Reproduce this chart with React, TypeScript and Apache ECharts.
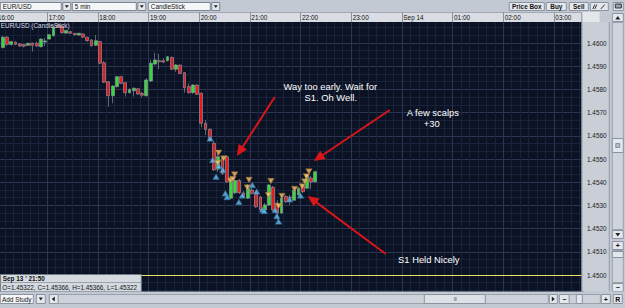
import React, { useEffect, useRef } from 'react';
import * as echarts from 'echarts';

// ---------- data ----------
const candleTimes = [
  '16:05','16:10','16:15','16:20','16:25','16:30','16:35','16:40','16:45','16:50',
  '16:55','17:00','17:05','17:10','17:15','17:20','17:25','17:30','17:35','17:40',
  '17:45','17:50','17:55','18:00','18:05','18:10','18:15','18:20','18:25','18:30',
  '18:35','18:40','18:45','18:50','18:55','19:00','19:05','19:10','19:15','19:20',
  '19:25','19:30','19:35','19:40','19:45','19:50','19:55','20:00','20:05','20:10',
  '20:15','20:20','20:25','20:30','20:35','20:40','20:45','20:50','20:55','21:00',
  '21:05','21:10','21:15','21:20','21:25','21:30','21:35','21:40','21:45','21:50',
  '21:55','22:00','22:05','22:10','22:15'
];
const opens = [
  1.45981,1.46025,1.45994,1.46004,1.45996,1.45993,1.45990,1.45999,1.45999,1.45984,
  1.46004,1.46017,1.46031,1.46078,1.46073,1.46043,1.46049,1.46042,1.46034,1.46039,
  1.46025,1.46013,1.45990,1.46006,1.45915,1.45833,1.45773,1.45812,1.45855,1.45829,
  1.45786,1.45794,1.45803,1.45783,1.45773,1.45836,1.45909,1.45924,1.45924,1.45924,
  1.45938,1.45887,1.45905,1.45872,1.45812,1.45786,1.45819,1.45783,1.45654,1.45628,
  1.45568,1.45456,1.45503,1.45510,1.45331,1.45354,1.45407,1.45354,1.45331,1.45366,
  1.45352,1.45336,1.45280,1.45302,1.45378,1.45310,1.45267,1.45338,1.45336,1.45322,
  1.45345,1.45384,1.45374,1.45418,1.45402
];
const closes = [
  1.46025,1.45994,1.46006,1.45994,1.45987,1.45986,1.45999,1.45990,1.45987,1.46017,
  1.46009,1.46036,1.46070,1.46068,1.46044,1.46054,1.46042,1.46036,1.46042,1.46025,
  1.46010,1.45988,1.46010,1.45913,1.45831,1.45773,1.45815,1.45855,1.45826,1.45786,
  1.45800,1.45805,1.45780,1.45775,1.45841,1.45913,1.45927,1.45919,1.45918,1.45941,
  1.45887,1.45905,1.45869,1.45807,1.45786,1.45819,1.45779,1.45654,1.45627,1.45582,
  1.45453,1.45510,1.45438,1.45402,1.45410,1.45407,1.45355,1.45339,1.45374,1.45352,
  1.45294,1.45280,1.45302,1.45388,1.45280,1.45267,1.45332,1.45316,1.45332,1.45366,
  1.45374,1.45359,1.45431,1.45401,1.45445
];
const lows = [
  1.45976,1.45989,1.45989,1.45991,1.45983,1.45981,1.45987,1.45963,1.45984,1.45981,
  1.45987,1.46015,1.46028,1.46065,1.46041,1.46039,1.46039,1.46032,1.46032,1.46022,
  1.46006,1.45984,1.45987,1.45909,1.45828,1.45725,1.45740,1.45808,1.45823,1.45769,
  1.45782,1.45769,1.45776,1.45766,1.45769,1.45832,1.45905,1.45887,1.45913,1.45920,
  1.45884,1.45876,1.45866,1.45786,1.45782,1.45782,1.45776,1.45637,1.45603,1.45578,
  1.45448,1.45444,1.45431,1.45397,1.45328,1.45349,1.45349,1.45336,1.45328,1.45347,
  1.45290,1.45276,1.45276,1.45297,1.45276,1.45237,1.45263,1.45310,1.45302,1.45322,
  1.45341,1.45354,1.45371,1.45371,1.45399
];
const highs = [
  1.46030,1.46030,1.46009,1.46006,1.45998,1.45996,1.46000,1.46002,1.46006,1.46019,
  1.46022,1.46039,1.46073,1.46080,1.46078,1.46056,1.46052,1.46043,1.46043,1.46041,
  1.46026,1.46017,1.46034,1.46009,1.45922,1.45836,1.45817,1.45858,1.45858,1.45832,
  1.45804,1.45808,1.45806,1.45790,1.45848,1.45927,1.45958,1.45953,1.45934,1.45944,
  1.45942,1.45909,1.45907,1.45875,1.45826,1.45823,1.45821,1.45787,1.45668,1.45631,
  1.45578,1.45526,1.45509,1.45517,1.45427,1.45418,1.45414,1.45362,1.45392,1.45375,
  1.45358,1.45341,1.45310,1.45392,1.45384,1.45323,1.45341,1.45345,1.45345,1.45366,
  1.45379,1.45388,1.45435,1.45427,1.45450
];

// buy signals (blue up triangles)
const buyTimes = ['20:13','20:16','20:20','20:23','20:28','20:31','20:33','20:47','20:51','21:03','21:08','21:15','21:17','21:30','21:32','21:34','21:47','22:00'];
const buyPrices = [1.45588,1.45496,1.45424,1.45470,1.45453,1.45352,1.45336,1.45315,1.45343,1.45388,1.45360,1.45282,1.45276,1.45280,1.45254,1.45231,1.45326,1.45343];
// sell signals (orange down triangles)
const sellTimes = ['20:23','20:22','20:29','20:37','20:42','20:40','20:59','20:57','21:25','21:22','21:38','21:34','21:53','22:02','22:05','22:07','22:10'];
const sellPrices = [1.45527,1.45483,1.45502,1.45407,1.45433,1.45414,1.45410,1.45377,1.45405,1.45345,1.45341,1.45297,1.45371,1.45382,1.45403,1.45425,1.45446];

const supportLevel = 1.45361; // S1
const priceMin = 1.449;
const priceMax = 1.461;
const priceStep = 0.001;
const selectedTime = '21:50';

const FONT = '"Liberation Sans", Arial, sans-serif';
const RED = '#d8161a';

const pad = (n: number) => (n < 10 ? '0' + n : '' + n);
const START_MIN = 16 * 60;
const SLOTS = 139;
const SLOT_PX = 4.2333;
const OX = 4.8; // the chart canvas starts 4.8px left of the page (16:00 line is off-page)
const toMinutes = (t: string) => {
  const [h, m] = t.split(':').map(Number);
  return (h * 60 + m - START_MIN + 1440) % 1440;
};
const slotLabels = Array.from({ length: SLOTS }, (_, i) => {
  const mm = START_MIN + i * 5;
  return pad(Math.floor(mm / 60) % 24) + ':' + pad(mm % 60);
});

function buildGraphics() {
  const g: any[] = [];
  const rect = (x: number, y: number, w: number, h: number, fill: string, stroke: string | null, z: number) =>
    g.push({ type: 'rect', silent: true, z, shape: { x: x + OX, y, width: w, height: h }, style: { fill, stroke: stroke || 'none', lineWidth: stroke ? 1 : 0 } });
  const text = (x: number, y: number, t: string, size: number, fill: string, align: string, z: number, weight = 'normal') =>
    g.push({ type: 'text', silent: true, z, x: x + OX, y, style: { text: t, fill, font: `${weight} ${size}px ${FONT}`, align, verticalAlign: 'middle', textAlign: align, textVerticalAlign: 'middle' } });
  const poly = (pts: number[][], fill: string, z: number) =>
    g.push({ type: 'polygon', silent: true, z, shape: { points: pts.map(([a, b]) => [a + OX, b]) }, style: { fill } });
  const line = (x1: number, y1: number, x2: number, y2: number, stroke: string, w: number, z: number) =>
    g.push({ type: 'line', silent: true, z, shape: { x1: x1 + OX, y1, x2: x2 + OX, y2 }, style: { stroke, lineWidth: w } });

  const FACE = '#e4e7ec', EDGE = '#8a93a0', BAR = '#c2c9d3';

  // top toolbar
  rect(-OX, 0, 630, 12, BAR, null, 10);
  const dropdowns: [number, number, string][] = [[0.5, 61, 'EUR/USD'], [72.5, 64, '5 min'], [148.5, 62, 'CandleStick']];
  dropdowns.forEach(([x, w, label]) => {
    rect(x, 2.5, w, 8, '#f5f6f8', '#7c8592', 11);
    text(x + 2.5, 6.7, label, 6.4, '#111', 'left', 12);
    const bx = x + w + 1.5;
    rect(bx, 2.5, 8, 8, FACE, '#7c8592', 11);
    poly([[bx + 2, 5.2], [bx + 6, 5.2], [bx + 4, 8]], '#222', 12);
  });
  const buttons: [number, number, string][] = [[509.5, 35, 'Price Box'], [546.5, 20, 'Buy'], [569.5, 19, 'Sell']];
  buttons.forEach(([x, w, label]) => {
    rect(x, 2.5, w, 8, FACE, EDGE, 11);
    text(x + w / 2, 6.7, label, 6.4, '#111', 'center', 12, 'bold');
  });
  rect(590.5, 2.5, 18, 8, FACE, EDGE, 11);
  line(593, 9, 595, 4.5, '#333', 1, 12); line(595, 9, 597, 4.5, '#333', 1, 12);
  line(601, 9, 605, 4.5, '#333', 1, 12);
  rect(613.5, 2.5, 10, 8, FACE, EDGE, 11);
  rect(615.5, 4, 6, 4, '#9aa3ae', '#333', 12);

  // time header
  rect(-OX, 12, 582 + OX, 10, '#d9dde3', null, 10);
  line(-OX, 12.5, 582, 12.5, '#a2a9b3', 1, 11);
  rect(582, 12, 18, 10, '#e3e6ea', null, 60);
  line(582, 12, 582, 22, '#8c949f', 1, 61);
  rect(600, 12, 12, 10, BAR, null, 60);

  // price panel
  rect(581.7, 22, 28.3, 269.5, '#c9ced7', null, 40);
  line(582, 22, 582, 291.5, '#7f8793', 1, 41);
  line(609.5, 12, 609.5, 291.5, '#8c949f', 1, 41);

  // right vertical scrollbar
  rect(610, 12, 15, 280, BAR, null, 41);
  rect(612.5, 13.5, 11, 8, FACE, EDGE, 42);
  poly([[615.5, 19.5], [620.5, 19.5], [618, 16]], '#222', 43);
  rect(612.5, 22.5, 11, 207, '#cfd4db', '#9aa2ad', 42);
  rect(612.5, 138.5, 11, 14, FACE, EDGE, 43);
  rect(616, 143.5, 4, 4, '#b5bcc6', EDGE, 44);
  rect(612.5, 230.5, 11, 8, FACE, EDGE, 42);
  poly([[615.5, 233], [620.5, 233], [618, 236.5]], '#222', 43);
  rect(612.5, 241.5, 11, 8, FACE, EDGE, 42);
  text(618, 245.7, '+', 7, '#111', 'center', 43, 'bold');
  rect(612.5, 250.5, 11, 32, '#cfd4db', '#9aa2ad', 42);
  rect(612.5, 251.5, 11, 6, FACE, EDGE, 43);
  rect(612.5, 283.5, 11, 8, FACE, EDGE, 42);
  text(618, 287.5, '−', 7, '#111', 'center', 43, 'bold');

  // bottom bar
  rect(-OX, 291.5, 630, 16.5, BAR, null, 45);
  rect(0.5, 294.5, 33, 9, '#f5f6f8', EDGE, 46);
  text(17, 299.2, 'Add Study', 6.4, '#111', 'center', 47);
  rect(36.5, 294.5, 9, 9, FACE, EDGE, 46);
  poly([[39, 297.5], [43, 297.5], [41, 300.5]], '#222', 47);
  rect(49.5, 294.5, 9, 9, FACE, EDGE, 46);
  poly([[55, 296.5], [55, 301.5], [52, 299]], '#222', 47);
  rect(58.5, 294.5, 490, 9, '#cdd2da', '#9aa2ad', 46);
  rect(424.5, 294.5, 61, 9, '#dde1e6', EDGE, 47);
  rect(454, 297, 3, 4, '#a0a8b3', null, 48);
  rect(549.5, 294.5, 8, 9, FACE, EDGE, 46);
  poly([[552, 296.5], [552, 301.5], [555, 299]], '#222', 47);
  rect(559.5, 294.5, 10, 9, FACE, EDGE, 46);
  text(564.5, 299, '−', 7, '#111', 'center', 47, 'bold');
  rect(569.5, 294.5, 31, 9, '#cdd2da', '#9aa2ad', 46);
  rect(576.5, 294.5, 6, 9, FACE, EDGE, 47);
  rect(601.5, 294.5, 9, 9, FACE, EDGE, 46);
  text(606, 299, '+', 7, '#111', 'center', 47, 'bold');
  rect(613.5, 294.5, 9, 9, FACE, EDGE, 46);
  text(618, 299.2, 'R', 7, '#111', 'center', 47, 'bold');

  // info box for selected candle
  const si = candleTimes.indexOf(selectedTime);
  rect(0.5, 274.5, 141, 17, '#d5dae1', '#6f7884', 30);
  line(0.5, 282.5, 141.5, 282.5, '#9aa2ad', 1, 31);
  text(3, 278.6, "Sep 13 ' " + selectedTime, 6.4, '#111', 'left', 31, 'bold');
  text(2.5, 287, `O=${opens[si].toFixed(5)}, C=${closes[si].toFixed(5)}, H=${highs[si].toFixed(5)}, L=${lows[si].toFixed(5)}`, 6.35, '#111', 'left', 31);

  // chart title overlay
  text(1, 25.5, 'EUR/USD (CandleStick)', 6.4, '#d5dbe4', 'left', 15);

  // annotations
  const WHITE = '#ffffff';
  text(330.5, 86.5, 'Way too early. Wait for', 9.4, WHITE, 'center', 20);
  text(331, 97.5, 'S1. Oh Well.', 9.4, WHITE, 'center', 20);
  text(433, 112.5, 'A few scalps', 9.4, WHITE, 'center', 20);
  text(432, 123, '+30', 9.4, WHITE, 'center', 20);
  text(429, 259.5, 'S1 Held Nicely', 9.4, WHITE, 'center', 20);

  const arrow = (x1: number, y1: number, x2: number, y2: number) => {
    const dx = x2 - x1, dy = y2 - y1, L = Math.hypot(dx, dy);
    const ux = dx / L, uy = dy / L, px = -uy, py = ux;
    const bx = x2 - ux * 11, by = y2 - uy * 11;
    line(x1, y1, bx + ux * 2, by + uy * 2, RED, 2, 20);
    poly([[x2, y2], [bx + px * 5, by + py * 5], [bx - px * 5, by - py * 5]], RED, 20);
  };
  arrow(275, 97, 237, 156);
  arrow(390, 110, 314, 161);
  arrow(386, 254, 308, 196);

  return g;
}

export default function App() {
  const ref = useRef<HTMLDivElement>(null);
  useEffect(() => {
    if (!ref.current) return;
    const chart = echarts.init(ref.current, null, { renderer: 'svg' });
    const gridTop = 19.8;
    const gridW = SLOTS * SLOT_PX;
    const gridH = 278.4;
    const majorLine = { show: true, lineStyle: { color: '#2b3652', width: 1 } };
    const minorLine = { show: true, lineStyle: { color: '#19223b', width: 1 } };

    const option: any = {
      animation: false,
      backgroundColor: '#c2c9d3',
      grid: { left: 0, top: gridTop, width: gridW, height: gridH, show: true, backgroundColor: '#0b1224', borderWidth: 0 },
      xAxis: [
        { type: 'category', data: slotLabels, boundaryGap: true, show: false, gridIndex: 0 },
        {
          type: 'value', min: 0, max: SLOTS * 5, interval: 60, gridIndex: 0, z: 0,
          axisLine: { show: false }, axisTick: { show: false }, axisLabel: { show: false },
          splitLine: majorLine, minorTick: { show: false, splitNumber: 6 }, minorSplitLine: minorLine,
        },
        {
          type: 'value', min: 0, max: SLOTS * 5, interval: 60, gridIndex: 0, position: 'top', offset: -2.2, z: 50,
          axisLine: { show: false },
          axisTick: { show: true, length: 10, lineStyle: { color: '#8d949e', width: 1 } },
          splitLine: { show: false },
          axisLabel: {
            show: true, color: '#111', fontSize: 6.4, fontFamily: 'Liberation Sans', margin: 4.8,
            align: 'left', verticalAlign: 'middle', padding: [0, 0, 0, 1.5],
            formatter: (v: number) => {
              if (Math.round(v) % 60 !== 0) return '';
              const h = (16 + Math.round(v) / 60) % 24;
              return h === 0 ? 'Sep 14' : pad(h) + ':00';
            },
          },
        },
      ],
      yAxis: [
        {
          type: 'value', min: priceMin, max: priceMax, interval: priceStep, gridIndex: 0, z: 0,
          axisLine: { show: false }, axisTick: { show: false }, axisLabel: { show: false },
          splitLine: majorLine, minorTick: { show: false, splitNumber: 3 }, minorSplitLine: minorLine,
        },
        {
          type: 'value', min: priceMin, max: priceMax, interval: priceStep, gridIndex: 0, position: 'right', z: 70,
          axisLine: { show: false }, axisTick: { show: false }, splitLine: { show: false },
          axisLabel: {
            show: true, color: '#1a1a1a', fontSize: 6.4, fontFamily: 'Liberation Sans', margin: 3.6, align: 'left',
            formatter: (v: number) => (v < priceMin + 0.0005 || v > priceMax - 0.0005 ? '' : v.toFixed(4)),
          },
        },
      ],
      series: [
        {
          type: 'candlestick', xAxisIndex: 0, yAxisIndex: 0, barWidth: 3.3,
          data: candleTimes.map((t, i) => [t, opens[i], closes[i], lows[i], highs[i]]),
          encode: { x: 0, y: [1, 2, 3, 4] },
          itemStyle: {
            color: '#38d838', color0: '#e01c1c',
            borderColor: '#98a0ab', borderColor0: '#98a0ab', borderColorDoji: '#98a0ab', borderWidth: 0.6,
          },
          markLine: {
            silent: true, symbol: ['none', 'none'], label: { show: false },
            lineStyle: { color: '#ece467', width: 1, type: 'solid' },
            data: [{ yAxis: supportLevel }],
          },
        },
        {
          type: 'scatter', xAxisIndex: 1, yAxisIndex: 0, z: 4,
          symbol: 'triangle', symbolSize: [6.5, 5.5],
          itemStyle: { color: '#66bdf2', borderColor: '#2c6d99', borderWidth: 0.6 },
          data: buyTimes.map((t, i) => [toMinutes(t), buyPrices[i]]),
        },
        {
          type: 'scatter', xAxisIndex: 1, yAxisIndex: 0, z: 4,
          symbol: 'triangle', symbolRotate: 180, symbolSize: [6.5, 5.5],
          itemStyle: { color: '#f7c66e', borderColor: '#8c5f22', borderWidth: 0.6 },
          data: sellTimes.map((t, i) => [toMinutes(t), sellPrices[i]]),
        },
      ],
      graphic: { elements: buildGraphics() },
    };
    chart.setOption(option);
    return () => chart.dispose();
  }, []);
  return <div ref={ref} style={{ position: 'fixed', left: -OX, top: 0, width: 625 + OX, height: 308 }} />;
}
